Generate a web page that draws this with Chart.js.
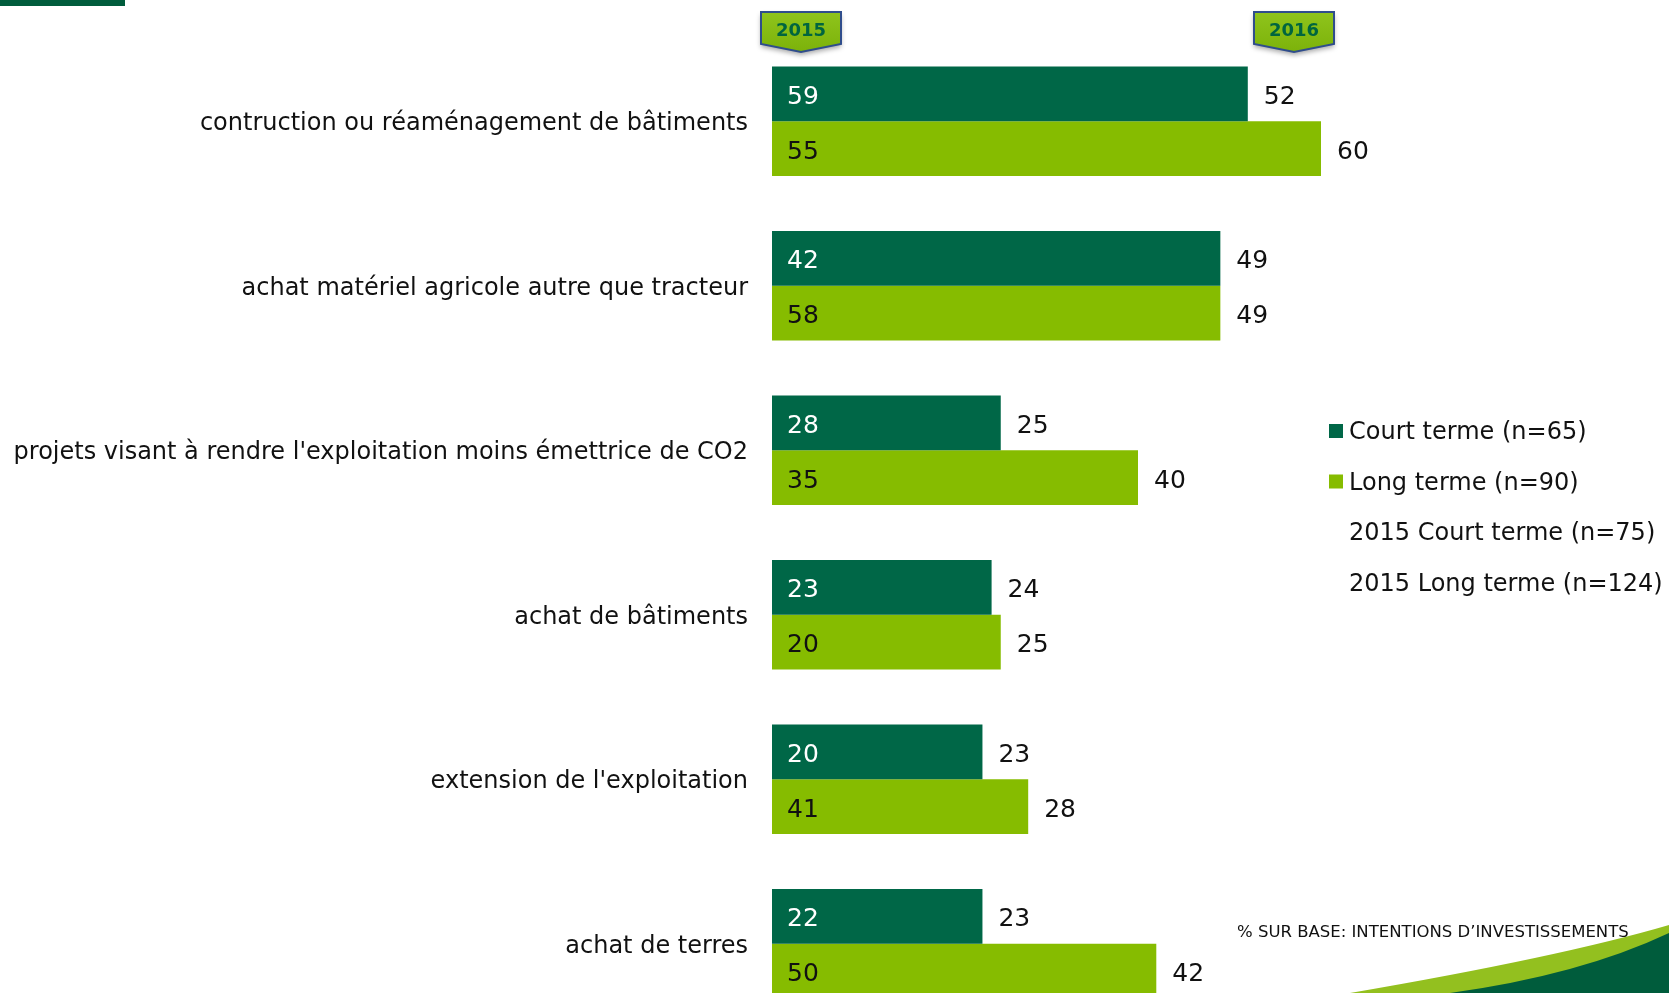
<!DOCTYPE html>
<html>
<head>
<meta charset="utf-8">
<script src="https://cdn.jsdelivr.net/npm/chart.js@4/dist/chart.umd.min.js"></script>
<style>
  html, body { margin: 0; padding: 0; background: #fff; overflow: hidden; }
  #wrap { width: 1669px; height: 993px; position: relative; overflow: hidden; }
  #chart { position: absolute; left: 0; top: 0; }
</style>
</head>
<body>
<div id="wrap"><canvas id="chart" width="1669" height="1030"></canvas></div>
<script>
const categories = [
    'contruction ou réaménagement de bâtiments',
    'achat matériel agricole autre que tracteur',
    "projets visant à rendre l'exploitation moins émettrice de CO2",
    'achat de bâtiments',
    "extension de l'exploitation",
    'achat de terres'
];
const courtTerme2016 = [52, 49, 25, 24, 23, 23];
const longTerme2016 = [60, 49, 40, 25, 28, 42];
const courtTerme2015 = [59, 42, 28, 23, 20, 22];
const longTerme2015 = [55, 58, 35, 20, 41, 50];
const legendLabels = [
    'Court terme (n=65)',
    'Long terme (n=90)',
    '2015 Court terme (n=75)',
    '2015 Long terme (n=124)'
];
const yearBadges = ['2015', '2016'];
const footnote = '% SUR BASE: INTENTIONS D\u2019INVESTISSEMENTS';

const DARK = '#006747';
const LIGHT = '#86BC00';
const labelFont = "'DejaVu Sans', Verdana, sans-serif";
const numFont = "'DejaVu Sans', sans-serif";

// valeurs 2015 dans la barre, valeurs 2016 au bout
const valueLabels = {
    id: 'valueLabels',
    afterDatasetsDraw(chart) {
        const ctx = chart.ctx;
        const old = [courtTerme2015, longTerme2015];
        ctx.save();
        ctx.font = '25px ' + numFont;
        ctx.textBaseline = 'alphabetic';
        ctx.textAlign = 'left';
        chart.data.datasets.forEach((ds, i) => {
            chart.getDatasetMeta(i).data.forEach((bar, j) => {
                ctx.fillStyle = i === 0 ? '#ffffff' : '#111111';
                ctx.fillText(String(old[i][j]), chart.chartArea.left + 15, bar.y + 10);
                ctx.fillStyle = '#111111';
                ctx.fillText(String(ds.data[j]), bar.x + 16, bar.y + 10);
            });
        });
        ctx.restore();
    }
};

function drawBadge(ctx, cx, text) {
    const w = 80, top = 12, side = 44, tip = 52;
    ctx.save();
    ctx.beginPath();
    ctx.moveTo(cx - w / 2, top);
    ctx.lineTo(cx + w / 2, top);
    ctx.lineTo(cx + w / 2, side);
    ctx.lineTo(cx, tip);
    ctx.lineTo(cx - w / 2, side);
    ctx.closePath();
    ctx.shadowColor = 'rgba(0,0,0,0.35)';
    ctx.shadowBlur = 5;
    ctx.shadowOffsetY = 3;
    const g = ctx.createLinearGradient(0, top, 0, tip);
    g.addColorStop(0, '#8fc41c');
    g.addColorStop(1, '#7cb20a');
    ctx.fillStyle = g;
    ctx.fill();
    ctx.shadowColor = 'transparent';
    ctx.lineWidth = 2;
    ctx.strokeStyle = '#2f4d8c';
    ctx.stroke();
    ctx.fillStyle = '#00653f';
    ctx.font = 'bold 18px ' + labelFont;
    ctx.textAlign = 'center';
    ctx.textBaseline = 'middle';
    ctx.fillText(text, cx, 31);
    ctx.restore();
}

const decor = {
    id: 'decor',
    afterDraw(chart) {
        const ctx = chart.ctx;
        ctx.save();
        // bande en haut à gauche
        ctx.fillStyle = '#005c3c';
        ctx.fillRect(0, 0, 125, 6);

        drawBadge(ctx, 801, yearBadges[0]);
        drawBadge(ctx, 1294, yearBadges[1]);

        // légende
        const colors = [DARK, LIGHT, null, null];
        ctx.font = '24px ' + labelFont;
        ctx.textBaseline = 'middle';
        ctx.textAlign = 'left';
        legendLabels.forEach((t, i) => {
            const y = 431 + i * 50.5;
            if (colors[i]) {
                ctx.fillStyle = colors[i];
                ctx.fillRect(1329, y - 7, 14, 14);
            }
            ctx.fillStyle = '#111111';
            ctx.fillText(t, 1349, y + 2);
        });

        // vague en bas à droite
        ctx.fillStyle = '#93c01f';
        ctx.beginPath();
        ctx.moveTo(1350, 993);
        ctx.quadraticCurveTo(1560, 957, 1669, 925);
        ctx.lineTo(1669, 1030);
        ctx.lineTo(1350, 1030);
        ctx.closePath();
        ctx.fill();
        ctx.fillStyle = '#005c3c';
        ctx.beginPath();
        ctx.moveTo(1450, 993);
        ctx.quadraticCurveTo(1580, 975, 1669, 933);
        ctx.lineTo(1669, 1030);
        ctx.lineTo(1450, 1030);
        ctx.closePath();
        ctx.fill();

        ctx.fillStyle = '#111111';
        ctx.font = '16.5px ' + labelFont;
        ctx.textAlign = 'left';
        ctx.fillText(footnote, 1237, 933);
        ctx.restore();
    }
};

new Chart(document.getElementById('chart').getContext('2d'), {
    type: 'bar',
    data: {
        labels: categories,
        datasets: [
            { label: legendLabels[0], data: courtTerme2016, backgroundColor: DARK },
            { label: legendLabels[1], data: longTerme2016, backgroundColor: LIGHT }
        ]
    },
    options: {
        indexAxis: 'y',
        responsive: false,
        animation: false,
        devicePixelRatio: 1,
        // la dernière barre est coupée en bas, comme dans l'original
        layout: { padding: { top: 39, right: 165, bottom: 4, left: 0 } },
        datasets: { bar: { barPercentage: 1, categoryPercentage: 0.665 } },
        plugins: {
            legend: { display: false },
            tooltip: { enabled: false }
        },
        scales: {
            x: { display: false, min: 0, max: 80 },
            y: {
                grid: { display: false, drawTicks: false },
                border: { display: false },
                ticks: {
                    padding: 24,
                    labelOffset: 3,
                    color: '#111111',
                    font: { family: labelFont, size: 24 }
                },
                afterFit(scale) {
                    scale.width = 772;
                    scale.paddingTop = 0;
                    scale.paddingBottom = 0;
                }
            }
        }
    },
    plugins: [valueLabels, decor]
});
</script>
</body>
</html>
